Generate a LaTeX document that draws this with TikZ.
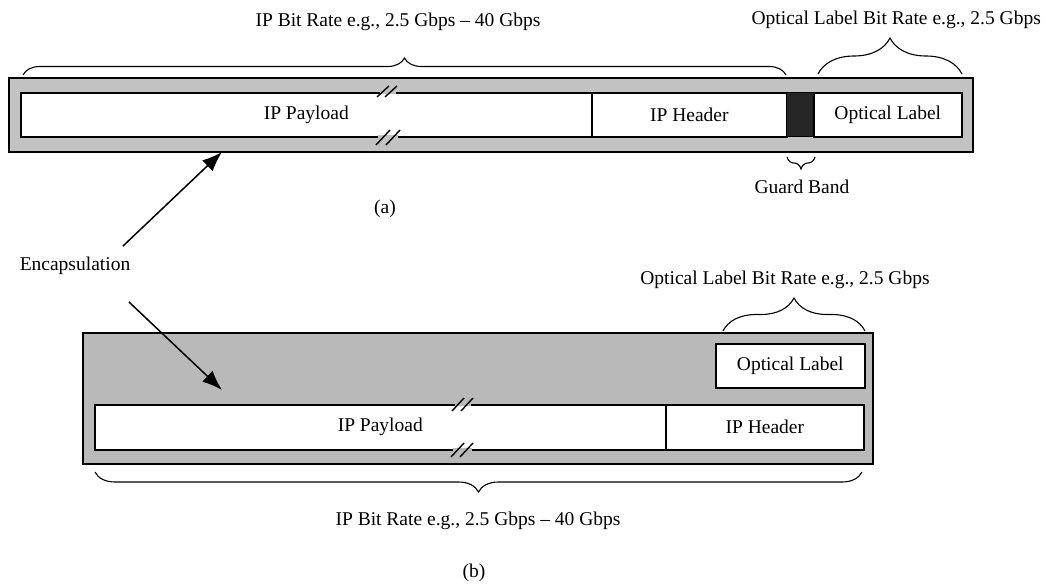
\documentclass[tikz,border=0pt]{standalone}
\usepackage{fontspec}
\setmainfont{Liberation Serif}
\usetikzlibrary{arrows.meta,decorations.pathreplacing}
\begin{document}
\begin{tikzpicture}[x=1pt,y=-1pt,
  txt/.style={font=\fontsize{19.5}{22}\selectfont, inner sep=0pt},
  outerbox/.style={draw=black, line width=2pt, fill=gray!48, inner sep=0pt, anchor=north west},
  cell/.style={draw=black, line width=1.6pt, fill=white, inner sep=0pt, anchor=north west, font=\fontsize{19.5}{22}\selectfont},
  guard/.style={draw=black, line width=1pt, fill=black!85, inner sep=0pt, anchor=north west},
  bracedec/.style={decorate, line width=1.1pt, decoration={brace, amplitude=#1}},
  breakmark/.style={line width=1.4pt},
  arr/.style={line width=1.5pt, -{Latex[length=20pt,width=15pt]}}
]
\useasboundingbox (0,0) rectangle (1045,587);

% ---------------- (a) ----------------
\node[outerbox, minimum width=964pt, minimum height=74pt] (outa) at (8,77) {};
\node[cell, minimum width=571pt, minimum height=44pt] (payA) at (20,92) {IP Payload};
\node[cell, minimum width=195pt, minimum height=44pt] (hdrA) at (591,92) {IP Header};
\node[guard, minimum width=27pt, minimum height=44pt] (gbA) at (786,92) {};
\node[cell, minimum width=148pt, minimum height=44pt] (olA) at (813,92) {Optical Label};

% break marks (a)
\fill[gray!48] (380,90.5) rectangle (396,93.5);
\fill[gray!48] (378,134.5) rectangle (398,137.5);
\draw[breakmark] (377,97) -- (389,86) (385,97) -- (397,86);
\draw[breakmark] (376,145) -- (390,130) (386,145) -- (400,130);

% braces (a)
\draw[bracedec=17pt] (23,75) -- (786,75);
\node[txt] (ipbrA) at (398,22) {IP Bit Rate e.g., 2.5 Gbps -- 40 Gbps};
\draw[bracedec=36pt] (818,74) -- (962,74);
\node[txt, anchor=east] (olbrA) at (1041,20) {Optical Label Bit Rate e.g., 2.5 Gbps};
\draw[bracedec=12pt] (815,157) -- (787,157);
\node[txt] (gbl) at (802,187) {Guard Band};
\node[txt] (capA) at (385,209) {(a)};

% ---------------- Encapsulation ----------------
\node[txt] (enc) at (75,266) {Encapsulation};
\coordinate (encU) at (123,246);
\coordinate (encD) at (129,302);
\coordinate (tipA) at (222,152);
\coordinate (tipB) at (222,390);

% ---------------- (b) ----------------
\node[outerbox, fill=gray!55, minimum width=790pt, minimum height=131pt] (outb) at (82,332) {};
\node[cell, minimum width=149pt, minimum height=44pt] (olB) at (715,343) {Optical Label};
\node[cell, minimum width=571pt, minimum height=45pt] (payB) at (94,404) {IP Payload};
\node[cell, minimum width=198pt, minimum height=45pt] (hdrB) at (665,404) {IP Header};

% break marks (b)
\fill[gray!55] (455,402.5) rectangle (471,405.5);
\fill[gray!55] (453,447.5) rectangle (472,450.5);
\draw[breakmark] (452,411) -- (464,398) (461,411) -- (473,398);
\draw[breakmark] (451,457) -- (464,443) (460,457) -- (473,443);

% braces (b)
\draw[bracedec=33pt] (723,331) -- (865,331);
\node[txt] (olbrB) at (785,280) {Optical Label Bit Rate e.g., 2.5 Gbps};
\draw[bracedec=20pt] (862,472) -- (95,472);
\node[txt] (ipbrB) at (478,521) {IP Bit Rate e.g., 2.5 Gbps -- 40 Gbps};
\node[txt] (capB) at (474,573) {(b)};

% arrows
\draw[arr] (encU) -- (tipA);
\draw[arr] (encD) -- (tipB);
\end{tikzpicture}
\end{document}
